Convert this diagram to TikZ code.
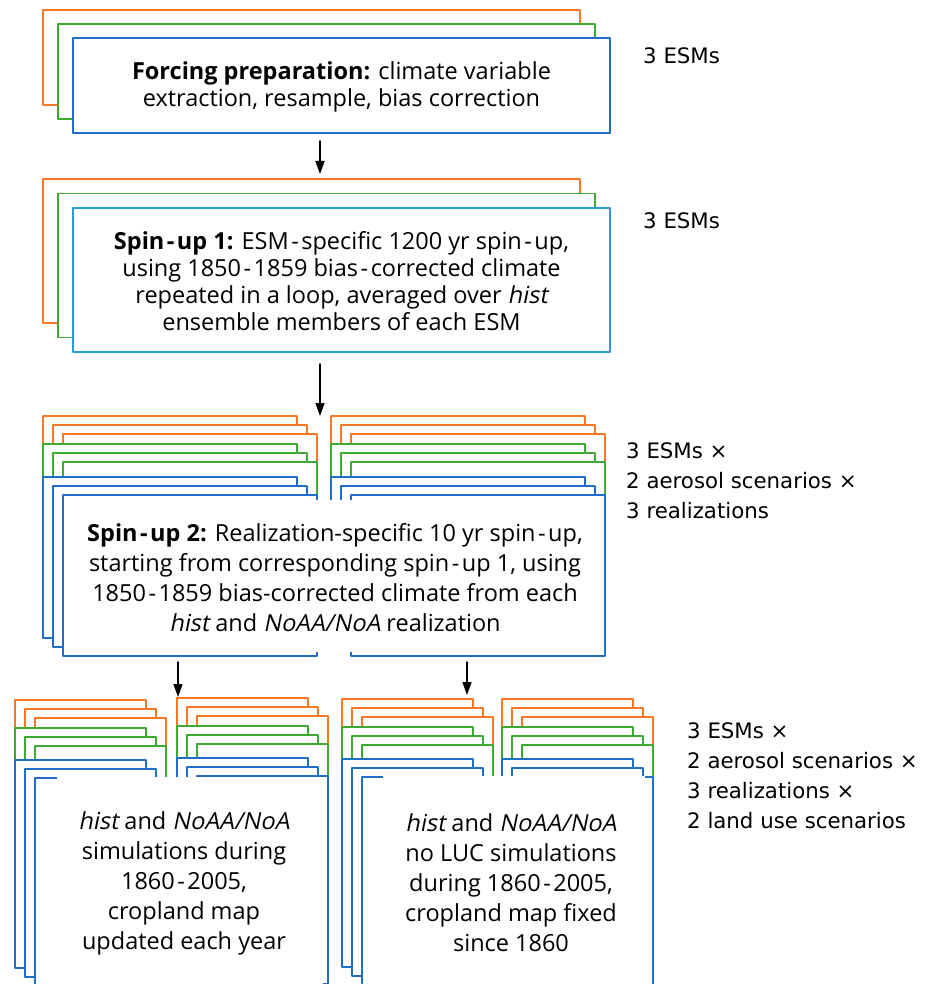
\documentclass[tikz,border=0pt]{standalone}
\usepackage{fontspec}
\setmainfont{Open Sans}[ItalicFont={Open Sans},ItalicFeatures={FakeSlant=0.2}]
\newfontfamily\lblfont{DejaVu Sans}
\usetikzlibrary{arrows.meta}

\definecolor{esmorange}{RGB}{250,120,35}
\definecolor{esmgreen}{RGB}{60,170,50}
\definecolor{esmblue}{RGB}{30,110,200}
\definecolor{spinblue}{RGB}{40,155,220}

\newcommand{\hy}{\kern2.5pt-\kern2.5pt}

\tikzset{
  layer/.style={line width=1.6pt,fill=white},
  steptxt/.style={align=center,inner sep=0pt,font=\fontsize{23.5}{27}\selectfont},
  widetxt/.style={align=center,inner sep=0pt,font=\fontsize{23.5}{30}\selectfont},
  lbl/.style={anchor=west,align=left,inner sep=0pt,font=\lblfont\fontsize{21.3}{30}\selectfont},
  flow/.style={->,line width=1.4pt},
}

\begin{document}
\begin{tikzpicture}[line cap=round,line join=round,>={Triangle[length=13pt,width=9pt]},x=1pt,y=-1pt]
    \useasboundingbox (0,0) rectangle (930,984);
    \clip (0,0) rectangle (930,984);
    % forcing preparation
    \foreach \c [count=\i from 0] in {esmorange,esmgreen,esmblue}
        \draw [layer,draw=\c] (43+15*\i,10+14*\i) rectangle ++(537,95);
    \node [steptxt] (forcing) at (341.5,87) {\textbf{Forcing preparation:} climate variable\\extraction, resample, bias correction};
    \node [lbl] (esmone) at (643,56) {3 ESMs};
    % spin-up 1
    \foreach \c [count=\i from 0] in {esmorange,esmgreen,spinblue}
        \draw [layer,draw=\c] (43+15*\i,179+14.5*\i) rectangle ++(537,144);
    \node [steptxt] (spinone) at (341.5,281) {\textbf{Spin\hy up 1:} ESM\hy specific 1200 yr spin\hy up,\\using 1850\hy 1859 bias\hy corrected climate\\repeated in a loop, averaged over \textit{hist}\\ensemble members of each ESM};
    \node [lbl] (esmtwo) at (643,221) {3 ESMs};
    % spin-up 2, two aerosol scenarios
    \foreach \xo in {43,331}
        \foreach \c/\yc in {esmorange/416,esmgreen/444,esmblue/477}
            \foreach \j in {0,1,2}
                \draw [layer,draw=\c] (\xo+10*\j,\yc+9*\j) rectangle ++(254,161);
    \fill [white] (70,500) rectangle (600,652);
    \node [widetxt] (spintwo) at (335,578) {\textbf{Spin\hy up 2:} Realization-specific 10 yr spin\hy up,\\starting from corresponding spin\hy up 1, using\\1850\hy 1859 bias-corrected climate from each\\\textit{hist} and \textit{NoAA/NoA} realization};
    \node [lbl] (esmthree) at (626,481) {3 ESMs ×\\2 aerosol scenarios ×\\3 realizations};
    % transient runs, two land use scenarios
    \foreach \xo/\yo in {15/700,177/698,342/699,502/699}
        \foreach \c/\yc in {esmorange/0,esmgreen/28,esmblue/60}
            \foreach \j in {0,1,2}
                \draw [layer,draw=\c] (\xo+10*\j,\yo+\yc+9*\j) rectangle ++(131,208);
    \fill [white] (57,777) rectangle (323,990);
    \fill [white] (383,776) rectangle (645,990);
    \node [widetxt] (histrun) at (184,883) {\textit{hist} and \textit{NoAA/NoA}\\simulations during\\1860\hy 2005,\\cropland map\\updated each year};
    \node [widetxt] (nolucrun) at (511,883) {\textit{hist} and \textit{NoAA/NoA}\\no LUC simulations\\during 1860\hy 2005,\\cropland map fixed\\since 1860};
    \node [lbl] (esmfour) at (687,776) {3 ESMs ×\\2 aerosol scenarios ×\\3 realizations ×\\2 land use scenarios};
    % arrows
    \coordinate (forcingout) at (320,141);
    \coordinate (spinonein) at (320,174);
    \coordinate (spinoneout) at (320,364);
    \coordinate (spintwoin) at (320,416);
    \coordinate (spintwoa) at (178,662);
    \coordinate (histin) at (178,697);
    \coordinate (spintwob) at (467,662);
    \coordinate (nolucin) at (467,695);
    \draw [flow] (forcingout) -- (spinonein);
    \draw [flow] (spinoneout) -- (spintwoin);
    \draw [flow] (spintwoa) -- (histin);
    \draw [flow] (spintwob) -- (nolucin);
\end{tikzpicture}
\end{document}
